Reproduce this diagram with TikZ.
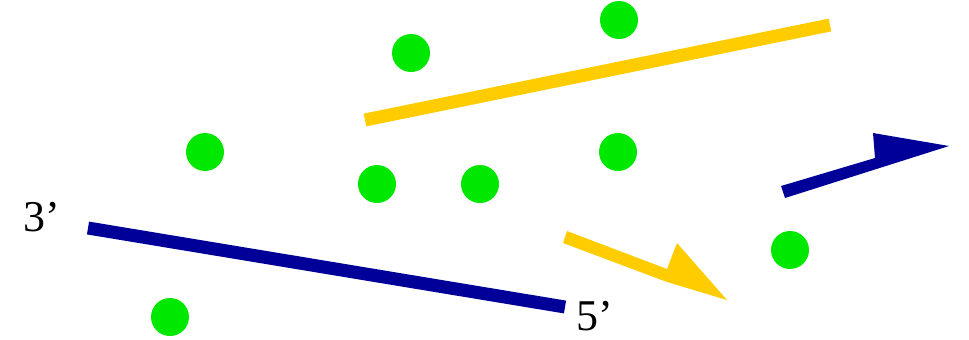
\documentclass[tikz,border=0pt]{standalone}
\usepackage{fontspec}
\setmainfont{Liberation Serif}
\definecolor{dotgreen}{RGB}{0,232,0}
\definecolor{strandyellow}{RGB}{255,204,0}
\definecolor{strandblue}{RGB}{0,0,153}

\begin{document}
\begin{tikzpicture}[x=0.02cm,y=-0.02cm,
	dot/.style={circle,fill=dotgreen,inner sep=0pt,minimum size=0.76cm},
	strand/.style={line width=0.26cm},
	endlabel/.style={font=\fontsize{25}{28}\selectfont,inner sep=0pt}]
	\useasboundingbox (0,0) rectangle (969,339);
	\foreach \x / \y [count=\i] in {411/53,619/20,205/152,377/184,480/184,618/152,790/250,170/317} \node[dot] (d\i) at (\x,\y) {};
	% long strands
	\coordinate (ya) at (365,120); \coordinate (yb) at (830,25);
	\coordinate (ba) at (88,228);  \coordinate (bb) at (565,307);
	\draw[strand,strandyellow] (ya) -- (yb);
	\draw[strand,strandblue] (ba) -- (bb);
	% short strands with half heads
	\coordinate (yt) at (567,231); \coordinate (ys) at (563,243); \coordinate (yl) at (667,282);
	\coordinate (ytip) at (727,300); \coordinate (ybarb) at (677,243); \coordinate (yback) at (667,269);
	\fill[strandyellow] (ys) -- (yl) -- (ytip) -- (ybarb) -- (yback) -- (yt) -- cycle;
	\coordinate (bt) at (781,186); \coordinate (bs) at (785,198);
	\coordinate (btip) at (949,146); \coordinate (bbarb) at (873,133); \coordinate (bback) at (875,158);
	\fill[strandblue] (bs) -- (btip) -- (bbarb) -- (bback) -- (bt) -- cycle;
	\node[endlabel] (three) at (42,217) {3’};
	\node[endlabel] (five) at (595,316) {5’};
\end{tikzpicture}
\end{document}
